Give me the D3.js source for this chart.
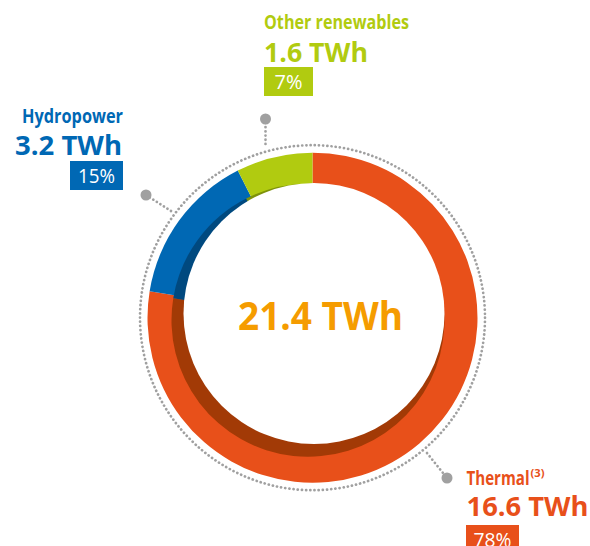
<!DOCTYPE html>
<html><head><meta charset="utf-8">
<script src="https://cdn.jsdelivr.net/npm/d3@7"></script>
<style>
html,body{margin:0;padding:0;background:#fff;}
svg{display:block;}
text{font-family:"Open Sans","Noto Sans",sans-serif;}
</style></head>
<body>
<svg id="chart" width="590" height="546"></svg>
<script>
const categories = ["Thermal", "Hydropower", "Other renewables"];
const valuesTWh = [16.6, 3.2, 1.6];
const valueLabels = ["16.6 TWh", "3.2 TWh", "1.6 TWh"];
const shareLabels = ["78%", "15%", "7%"];
const footnotes = ["(3)", "", ""];
const totalLabel = "21.4 TWh";

const colors = ["#E8501A", "#0068B4", "#B1CB10"];
const darkColors = ["#A23A06", "#00497F", "#7E920A"];

const svg = d3.select("#chart");
const data = categories.map((c, i) => ({name: c, value: valuesTWh[i], i}));
const pie = d3.pie().sort(null).value(d => d.value).startAngle(0).endAngle(2 * Math.PI);
const arcs = pie(data);

const cx = 312.5, cy = 317.7, R = 165;

function fitText(sel, w) {
  return sel.attr("textLength", w).attr("lengthAdjust", "spacingAndGlyphs");
}

// dotted outer circle
svg.append("circle").attr("cx", cx).attr("cy", cy).attr("r", 172.5)
  .attr("fill", "none").attr("stroke", "#A0A0A0").attr("stroke-width", 2.7)
  .attr("stroke-dasharray", "0.1,4.1").attr("stroke-linecap", "round");

// main ring (full wedges)
const outerArc = d3.arc().innerRadius(0).outerRadius(R);
svg.append("g").attr("transform", `translate(${cx},${cy})`)
  .selectAll("path").data(arcs).join("path")
  .attr("d", outerArc).attr("fill", d => colors[d.data.i]);

// shadow wedges
const shadowArc = d3.arc().innerRadius(0).outerRadius(136.5);
svg.append("g").attr("transform", `translate(${cx - 4.5},${cy + 2.5})`)
  .selectAll("path").data(arcs).join("path")
  .attr("d", shadowArc).attr("fill", d => darkColors[d.data.i]);

// white hole
svg.append("circle").attr("cx", cx + 1.5).attr("cy", cy - 4.2).attr("r", 130.5).attr("fill", "#fff");

// centre label
fitText(svg.append("text").attr("x", 238).attr("y", 330)
  .attr("fill", "#F59C00").attr("font-weight", "bold").attr("font-size", 39)
  .text(totalLabel), 165);

// leader lines
const leaders = [
  {x1: 427, y1: 453, x2: 447, y2: 478},
  {x1: 171, y1: 211, x2: 146, y2: 195},
  {x1: 265.5, y1: 144, x2: 265.5, y2: 119}
];
leaders.forEach(l => {
  svg.append("line").attr("x1", l.x1).attr("y1", l.y1).attr("x2", l.x2).attr("y2", l.y2)
    .attr("stroke", "#A0A0A0").attr("stroke-width", 2.7)
    .attr("stroke-dasharray", "0.1,4.1").attr("stroke-linecap", "round");
  svg.append("circle").attr("cx", l.x2).attr("cy", l.y2).attr("r", 5.5).attr("fill", "#A0A0A0");
});

// labels
const labelPos = [
  {x: 466.5, yName: 485, nameW: 63, yVal: 516, valW: 122, boxX: 466, boxW: 53, boxY: 525, pctW: 38},
  {x: 22, yName: 123, nameW: 101, yVal: 155, valW: 107, valX: 15, boxX: 70, boxW: 53, boxY: 161, pctW: 37},
  {x: 264, yName: 29, nameW: 145, yVal: 62, valW: 104, boxX: 264, boxW: 49, boxY: 67, pctW: 28}
];
labelPos.forEach((p, i) => {
  fitText(svg.append("text").attr("x", p.x).attr("y", p.yName)
    .attr("fill", colors[i]).attr("font-weight", "bold").attr("font-size", 19)
    .text(categories[i]), p.nameW);
  if (footnotes[i]) {
    fitText(svg.append("text").attr("x", p.x + p.nameW + 1).attr("y", p.yName - 8)
      .attr("fill", colors[i]).attr("font-weight", "bold").attr("font-size", 10)
      .text(footnotes[i]), 14);
  }
  fitText(svg.append("text").attr("x", p.valX !== undefined ? p.valX : p.x).attr("y", p.yVal)
    .attr("fill", colors[i]).attr("font-weight", "bold").attr("font-size", 26)
    .text(valueLabels[i]), p.valW);
  svg.append("rect").attr("x", p.boxX).attr("y", p.boxY).attr("width", p.boxW).attr("height", 29)
    .attr("fill", colors[i]);
  fitText(svg.append("text").attr("x", p.boxX + (p.boxW - p.pctW) / 2).attr("y", p.boxY + 22)
    .attr("fill", "#fff").attr("font-size", 20).text(shareLabels[i]), p.pctW);
});
</script>
</body></html>
